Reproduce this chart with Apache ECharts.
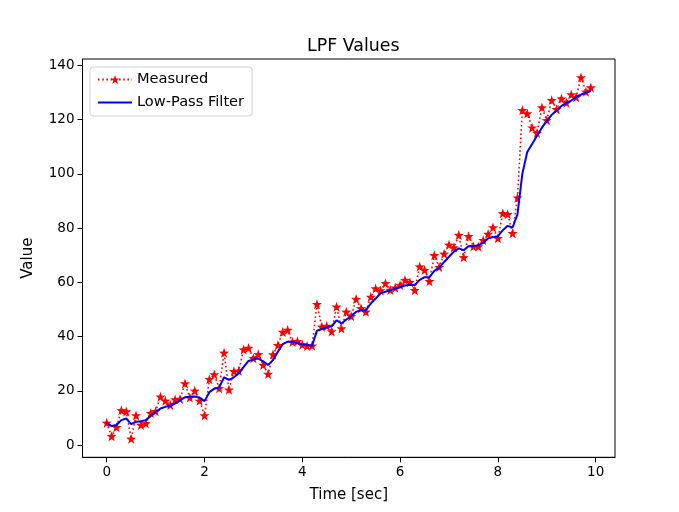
<!DOCTYPE html>
<html>
<head>
<meta charset="utf-8">
<script src="https://cdn.jsdelivr.net/npm/echarts@6/dist/echarts.min.js"></script>
<style>html,body{margin:0;padding:0;background:#fff;}#c{width:679px;height:512px;}</style>
</head>
<body>
<div id="c"></div>
<script>
const times = [0.0,0.1,0.2,0.3,0.4,0.5,0.6,0.7,0.8,0.9,1.0,1.1,1.2,1.3,1.4,1.5,1.6,1.7,1.8,1.9,
2.0,2.1,2.2,2.3,2.4,2.5,2.6,2.7,2.8,2.9,3.0,3.1,3.2,3.3,3.4,3.5,3.6,3.7,3.8,3.9,
4.0,4.1,4.2,4.3,4.4,4.5,4.6,4.7,4.8,4.9,5.0,5.1,5.2,5.3,5.4,5.5,5.6,5.7,5.8,5.9,
6.0,6.1,6.2,6.3,6.4,6.5,6.6,6.7,6.8,6.9,7.0,7.1,7.2,7.3,7.4,7.5,7.6,7.7,7.8,7.9,
8.0,8.1,8.2,8.3,8.4,8.5,8.6,8.7,8.8,8.9,9.0,9.1,9.2,9.3,9.4,9.5,9.6,9.7,9.8,9.9];
const measured = [8.2,3.3,6.6,12.8,12.4,2.3,10.9,7.4,8.0,11.8,12.5,17.8,16.3,14.8,16.8,17.0,22.7,17.5,20.0,16.3,
10.9,24.3,26.0,20.9,34.0,20.4,27.2,27.4,35.2,35.8,32.0,33.5,29.5,26.2,33.4,36.8,41.7,42.4,38.0,38.3,
37.0,36.5,36.6,51.9,43.6,43.9,41.9,51.0,43.0,49.1,47.5,53.8,50.4,49.1,54.6,57.7,57.0,59.6,57.2,58.0,
59.0,60.8,60.0,57.1,65.8,64.5,60.4,70.0,65.6,70.5,73.8,72.8,77.4,69.2,77.0,73.2,73.2,75.5,77.8,80.2,
76.2,85.4,85.1,78.1,91.2,123.4,122.2,117.0,115.0,124.4,119.7,127.1,123.8,127.7,126.2,129.2,128.2,135.5,130.2,131.8];
const filtered = [8.2,7.0,7.4,9.2,9.8,7.7,8.6,8.8,9.2,10.7,12.3,13.5,14.1,14.5,15.4,16.6,17.6,17.8,17.9,17.5,
16.2,19.5,20.8,21.2,25.0,24.0,25.0,26.4,28.8,31.0,31.6,31.9,30.9,29.5,31.3,34.4,37.2,38.1,38.1,37.5,
37.2,37.0,36.6,42.2,42.8,43.4,43.8,46.0,44.8,46.3,47.5,49.1,49.7,49.7,52.2,54.0,55.9,56.5,57.1,57.7,
58.2,58.8,59.1,59.0,60.9,61.9,61.9,64.2,65.4,67.5,69.4,71.3,72.5,71.8,73.3,73.3,73.7,74.5,76.2,76.7,
77.0,79.2,80.8,80.2,85.0,100.0,108.0,111.0,114.0,117.0,119.5,121.7,123.4,125.0,126.0,127.0,128.3,129.2,129.8,130.5];
const xTicks = [0,2,4,6,8,10];
const yTicks = [0,20,40,60,80,100,120,140];

const star = 'path://M0,-10 L2.35,-3.24 L9.51,-3.09 L3.8,1.24 L5.88,8.09 L0,4 L-5.88,8.09 L-3.8,1.24 L-9.51,-3.09 L-2.35,-3.24 Z';
const font = 'DejaVu Sans';
const chart = echarts.init(document.getElementById('c'), null, {renderer:'canvas'});
chart.setOption({
  animation:false,
  backgroundColor:'#fff',
  title:{text:'LPF Values', left:302, top:33, textStyle:{fontFamily:font, fontSize:17.4, fontWeight:'normal', color:'#000'}},
  grid:{left:82.5, right:64, top:59, bottom:54.7, show:true, borderColor:'#000', borderWidth:1, containLabel:false},
  legend:{
    orient:'vertical', left:90, top:67, padding:[5,8,6,7], itemGap:8,
    backgroundColor:'#fff', borderColor:'#d0d0d0', borderWidth:1, borderRadius:3,
    itemWidth:34, itemHeight:11,
    textStyle:{fontFamily:font, fontSize:14.6, color:'#000'},
    data:[{name:'Measured'}, {name:'Low-Pass Filter', icon:'path://M0,0 L34,0 L34,2 L0,2 Z', itemStyle:{color:'#0000ff'}}]
  },
  xAxis:{type:'value', min:-0.495, max:10.395, name:'Time [sec]', nameLocation:'middle', nameGap:30,
    nameTextStyle:{fontFamily:font, fontSize:15, color:'#000'},
    axisLine:{show:true, onZero:false, lineStyle:{color:'#000'}},
    axisTick:{show:true, length:5, lineStyle:{color:'#000'}, customValues:xTicks},
    axisLabel:{fontFamily:font, fontSize:13.5, color:'#000', margin:8, customValues:xTicks},
    splitLine:{show:false}},
  yAxis:{type:'value', min:-4.5, max:142.3, name:'Value', nameLocation:'middle', nameGap:47,
    nameTextStyle:{fontFamily:font, fontSize:15, color:'#000'},
    axisLine:{show:true, onZero:false, lineStyle:{color:'#000'}},
    axisTick:{show:true, length:5, lineStyle:{color:'#000'}, customValues:yTicks},
    axisLabel:{fontFamily:font, fontSize:13.5, color:'#000', margin:8, customValues:yTicks},
    splitLine:{show:false}},
  series:[
    {name:'Measured', type:'line', data:times.map((t,i)=>[t,measured[i]]),
     symbol:star, symbolSize:10, showAllSymbol:true,
     itemStyle:{color:'#ff0000', borderWidth:0},
     lineStyle:{color:'#ff0000', width:1.6, type:[1.6,2.6]}, z:2},
    {name:'Low-Pass Filter', type:'line', data:times.map((t,i)=>[t,filtered[i]]),
     symbol:'none', itemStyle:{color:'#0000ff'},
     lineStyle:{color:'#0000ff', width:2}, z:3}
  ]
});
</script>
</body>
</html>
